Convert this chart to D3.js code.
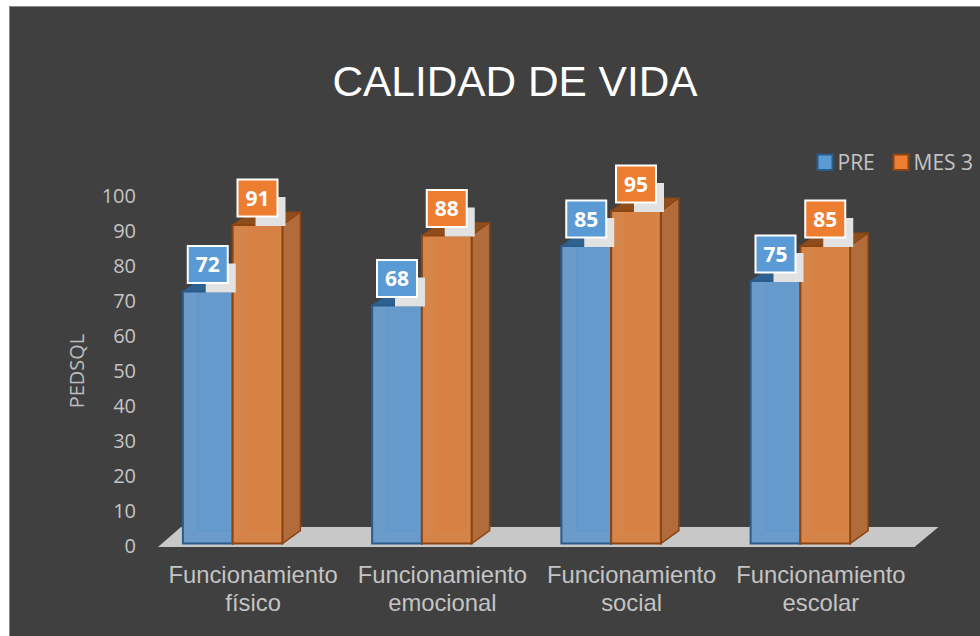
<!DOCTYPE html>
<html><head><meta charset="utf-8">
<script src="https://cdnjs.cloudflare.com/ajax/libs/d3/7.8.5/d3.min.js"></script>
<style>html,body{margin:0;padding:0;background:#fff}svg{display:block}</style>
</head><body><svg id="c" width="980" height="636"></svg>
<script>
const categories = [["Funcionamiento","físico"],["Funcionamiento","emocional"],["Funcionamiento","social"],["Funcionamiento","escolar"]];
const seriesNames = ["PRE","MES 3"];
const preValues = [72,68,85,75];
const mes3Values = [91,88,95,85];
const yTicks = [0,10,20,30,40,50,60,70,80,90,100];
const title = "CALIDAD DE VIDA";
const yTitle = "PEDSQL";

const palette = {
  "PRE":   {label:"#5b9bd5", back:"#5b97d0", front:"#6a9bca", side:"#4f7fae", top:"#2f618f", edge:"#2a5c8a"},
  "MES 3": {label:"#ed7d31", back:"#de7f3a", front:"#d5844a", side:"#b26c3c", top:"#8f4d1c", edge:"#8a4512"}
};
const dx = 18, dy = 13;
const svg = d3.select("#c");
svg.append("rect").attr("x",9).attr("y",6).attr("width",971).attr("height",630).attr("fill","#404040");
svg.append("path").attr("d","M9.5 636V6.5H980").attr("fill","none").attr("stroke","#8a8a8a").attr("stroke-width",1);

const x0 = d3.scaleBand().domain(d3.range(categories.length)).range([138,895]);
const x1 = d3.scaleBand().domain(seriesNames).range([0,99.5]);
const y = d3.scaleLinear().domain([0,100]).range([543.5,193.5]);

// Floor
const fl = y(0);
svg.append("path").attr("fill","#c8c8c8")
  .attr("d",`M158 ${fl+3.5}L181 ${fl-16.5}H938.5L914.5 ${fl+3.5}Z`);

// Y axis
const yAxis = d3.axisLeft(y).tickValues(yTicks).tickSize(0).tickPadding(0);
const ga = svg.append("g").attr("transform","translate(136,2)").call(yAxis);
ga.select(".domain").remove();
ga.selectAll("text").attr("fill","#c4c4c4").style("font","20px 'Open Sans'").attr("dy","0.36em");

svg.append("text").attr("transform","translate(84,371) rotate(-90)").attr("text-anchor","middle")
  .attr("fill","#bdbdbd").style("font","20px 'Open Sans'").text(yTitle);

svg.append("text").attr("x",515).attr("y",96).attr("text-anchor","middle").attr("fill","#fff")
  .style("font","42.4px 'Liberation Sans'").text(title);

// Category labels
const cat = svg.append("g").selectAll("text").data(categories).join("text")
  .attr("text-anchor","middle").attr("fill","#c4c4c4").style("font","23.8px 'Liberation Sans'");
cat.each(function(d,i){
  const cx = x0(i)+x0.bandwidth()/2+20.5;
  d3.select(this).selectAll("tspan").data(d).join("tspan")
    .attr("x",cx).attr("y",(t,j)=>583+j*28).text(t=>t);
});

// Bars
const rows = categories.map((c,i)=>[
  {s:"PRE",v:preValues[i],i},{s:"MES 3",v:mes3Values[i],i}]);
const px = d => x0(d.i)+x0.bandwidth()/2-49.75+x1(d.s);
const w = x1.bandwidth();
const groups = svg.append("g").selectAll("g").data(rows).join("g");
const bars = groups.selectAll("g").data(d=>d).join("g");
bars.append("path").attr("fill",d=>palette[d.s].side).attr("stroke",d=>palette[d.s].edge).attr("stroke-width",1.5)
  .attr("d",d=>{const a=px(d)+w,t=y(d.v),b=y(0);return `M${a} ${t}L${a+dx} ${t-dy}V${b-dy}L${a} ${b}Z`;});
bars.append("path").attr("fill",d=>palette[d.s].top).attr("stroke",d=>palette[d.s].edge).attr("stroke-width",1)
  .attr("d",d=>{const a=px(d),t=y(d.v);return `M${a} ${t}L${a+dx} ${t-dy}H${a+w+dx}L${a+w} ${t}Z`;});
bars.append("rect").attr("x",d=>px(d)).attr("y",d=>y(d.v)).attr("width",w).attr("height",d=>y(0)-y(d.v))
  .attr("fill",d=>palette[d.s].front);
// back panel seen through the face
bars.append("rect").attr("x",d=>px(d)+dx-3).attr("y",d=>y(d.v)).attr("width",w-dx-1).attr("height",d=>y(0)-y(d.v)-dy)
  .attr("fill",d=>palette[d.s].back).attr("fill-opacity",0.35);
// inner floor edge lines seen through
bars.append("path").attr("fill","none").attr("stroke",d=>palette[d.s].back).attr("stroke-opacity",0.8)
  .attr("d",d=>{const a=px(d),b=y(0);return `M${a} ${b}L${a+dx-3} ${b-dy}H${a+w}M${a+dx-3} ${b-dy}V${y(d.v)}`;});
bars.append("rect").attr("x",d=>px(d)).attr("y",d=>y(d.v)).attr("width",w).attr("height",d=>y(0)-y(d.v))
  .attr("fill","none").attr("stroke",d=>palette[d.s].edge).attr("stroke-width",2);

// Data labels
const lbl = svg.append("g").selectAll("g").data(rows.flat()).join("g")
  .attr("transform",d=>`translate(${px(d)+w/2},${y(d.v)-27})`);
lbl.append("rect").attr("x",-2).attr("y",-1).attr("width",30).attr("height",29).attr("fill","#e2e2e2");
lbl.append("rect").attr("x",-20).attr("y",-18.5).attr("width",40).attr("height",37)
  .attr("fill",d=>palette[d.s].label).attr("stroke","#fff").attr("stroke-width",2);
lbl.append("text").attr("text-anchor","middle").attr("y",7.5).attr("fill","#fff")
  .style("font","bold 21px 'Open Sans'").text(d=>d.v);

// Legend
const legX = d3.scaleOrdinal().domain(seriesNames).range([817.5,893.5]);
const leg = svg.append("g").selectAll("g").data(seriesNames).join("g")
  .attr("transform",d=>`translate(${legX(d)},154.5)`);
leg.append("rect").attr("width",15).attr("height",15.5).attr("fill",d=>palette[d].label)
  .attr("stroke",d=>palette[d].edge).attr("stroke-width",2);
leg.append("text").attr("x",20).attr("y",15.5).attr("fill","#c4c4c4").style("font","21px 'Open Sans'").text(d=>d);
</script></body></html>
